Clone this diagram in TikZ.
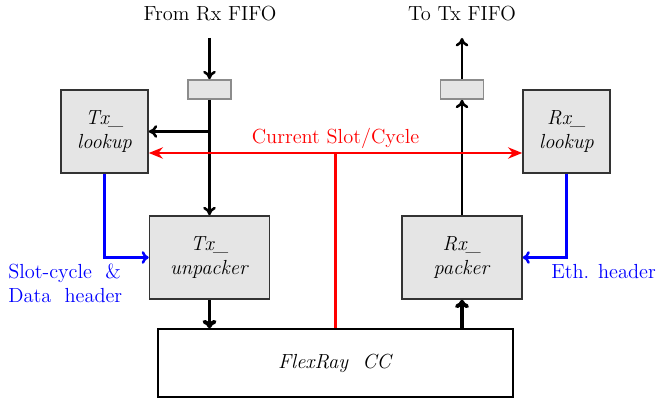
\documentclass[tikz,border=0pt]{standalone}
\usetikzlibrary{calc,arrows.meta}

\begin{document}
\begin{tikzpicture}[x=0.025cm, y=-0.025cm,
        every node/.style={font=\fontsize{14.5}{17}\selectfont},
        block/.style={draw=black!80, fill=black!10, line width=1.1pt, align=center,
            minimum width=2.175cm, minimum height=2.075cm, inner sep=0pt},
        wideblock/.style={block, minimum width=3cm},
        fifo/.style={draw=black!45, fill=black!10, line width=1.1pt,
            minimum width=1.075cm, minimum height=0.475cm, inner sep=0pt},
        dataline/.style={black, line width=1.8pt, -{To[length=6pt,width=9pt]}},
        busline/.style={black, line width=2.8pt, -{To[length=6pt,width=10pt]}},
        slotline/.style={red, line width=1.8pt},
        hdrline/.style={blue, line width=1.8pt, -{To[length=5pt,width=9pt]}}]
    \useasboundingbox (0,0) rectangle (659,400);

    \node (fromrx) at (210,14) {From Rx FIFO};
    \node (totx) at (462,14) {To Tx FIFO};
    \coordinate (rxin) at (209.5,38);
    \coordinate (txout) at (462,38);

    \node[fifo] (fifol) at (209.5,89.5) {};
    \node[fifo] (fifor) at (462,89.5) {};

    \node[block] (txlk) at (104.5,131.5) {\textit{Tx\_}\\\textit{lookup}};
    \node[block] (rxlk) at (566.5,131.5) {\textit{Rx\_}\\\textit{lookup}};
    \node[wideblock] (txunp) at (209.5,257.5) {\textit{Tx\_}\\\textit{unpacker}};
    \node[wideblock] (rxpk) at (462,257.5) {\textit{Rx\_}\\\textit{packer}};
    \node[draw, line width=1.1pt, minimum width=8.875cm, minimum height=1.7cm]
        (flex) at (335.5,363) {\textit{FlexRay\ \ CC}};

    \draw[dataline] (rxin) -- (fifol.north);
    \draw[dataline] (fifol.south) -- (txunp.north);
    \draw[dataline] (fifol.south |- txlk.east) -- (txlk.east);
    \draw[busline] (txunp.south) -- (txunp.south |- flex.north);

    \draw[busline] (flex.north -| rxpk.south) -- (rxpk.south);
    \draw[dataline] (rxpk.north) -- (fifor.south);
    \draw[dataline] (fifor.north) -- (txout);

    \coordinate (slot) at (335.5,153);
    \draw[slotline, {Stealth[length=10pt,width=8pt]}-{Stealth[length=10pt,width=8pt]}]
        (txlk.east |- slot) -- (rxlk.west |- slot);
    \draw[slotline] (slot) -- (slot |- flex.north);
    \node[red, above, inner sep=3pt] (slotlbl) at (slot) {Current Slot/Cycle};

    \draw[hdrline] (txlk.south) |- (txunp.west);
    \draw[hdrline] (rxlk.south) |- (rxpk.east);
    \node[blue, anchor=north west, align=left, inner sep=0pt] (txhdr) at (8,264)
        {Slot-cycle \ \&\\Data \ header};
    \node[blue, anchor=north west, inner sep=0pt] (rxhdr) at (551,264) {Eth. header};
\end{tikzpicture}
\end{document}
